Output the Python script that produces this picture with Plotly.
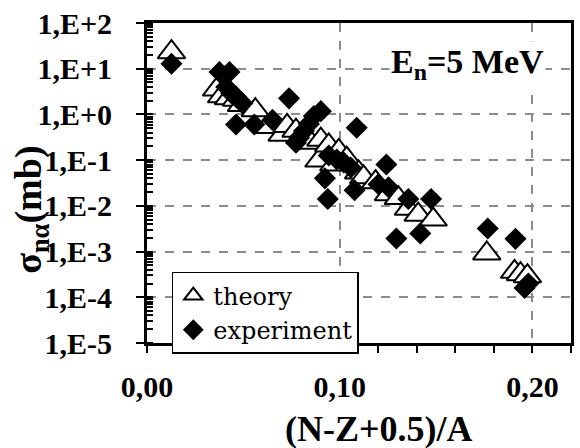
import plotly.graph_objects as go

# (N-Z+0.5)/A and cross-section (mb) for the theoretical systematics
theory_x = [0.0127, 0.0361, 0.0387, 0.0423, 0.0464, 0.0490, 0.0562, 0.0624,
            0.0701, 0.0727, 0.0773, 0.0850, 0.0892, 0.0902, 0.0943, 0.0969,
            0.0995, 0.1036, 0.1098, 0.1124, 0.1186, 0.1253, 0.1304, 0.1356,
            0.1407, 0.1485, 0.1763, 0.1907, 0.1938, 0.1974]
theory_y = [23, 3.5, 2.5, 2.25, 2.1, 1.6, 1.24, 0.53,
            0.36, 0.56, 0.44, 0.24, 0.098, 0.28, 0.21, 0.08,
            0.16, 0.108, 0.054, 0.042, 0.033, 0.018, 0.0148, 0.0086,
            0.0064, 0.0050, 0.00091, 0.00036, 0.00032, 0.00029]

# measured (n,alpha) cross sections at En = 5 MeV
exp_x = [0.0127, 0.0376, 0.0428, 0.0411, 0.0437, 0.0462, 0.0495, 0.0462,
         0.0557, 0.0651, 0.0737, 0.0773, 0.0789, 0.0814, 0.0840, 0.0866,
         0.0902, 0.0943, 0.0985, 0.1021, 0.1057, 0.0923, 0.0938, 0.1077,
         0.1088, 0.1242, 0.1201, 0.1253, 0.1294, 0.1356, 0.1418, 0.1474,
         0.1768, 0.1912, 0.1959, 0.1979]
exp_y = [12.8, 8.5, 8.5, 4.0, 2.9, 2.45, 1.75, 0.60,
         0.60, 0.76, 2.25, 0.24, 0.31, 0.435, 0.62, 0.92,
         1.18, 0.126, 0.103, 0.089, 0.069, 0.040, 0.0141, 0.022,
         0.51, 0.080, 0.0297, 0.0256, 0.00193, 0.0141, 0.0025, 0.0141,
         0.0032, 0.0019, 0.00016, 0.00020]

x_ticks = [0.0, 0.1, 0.2]
x_ticktext = ["0,00", "0,10", "0,20"]
y_ticks = [1e-5, 1e-4, 1e-3, 1e-2, 1e-1, 1e0, 1e1, 1e2]
y_ticktext = ["1,E-5", "1,E-4", "1,E-3", "1,E-2", "1,E-1", "1,E+0", "1,E+1", "1,E+2"]

SERIF = "Liberation Serif"
LEGEND_SERIF = "DejaVu Serif"

fig = go.Figure()
fig.add_trace(go.Scatter(
    x=theory_x, y=theory_y, mode="markers", name="theory",
    marker=dict(symbol="triangle-up", size=24, color="white",
                line=dict(color="black", width=2)),
))
fig.add_trace(go.Scatter(
    x=exp_x, y=exp_y, mode="markers", name="experiment",
    marker=dict(symbol="diamond", size=17, color="black",
                line=dict(width=0)),
))

fig.update_layout(
    width=580, height=448,
    margin=dict(l=147, r=6, t=19, b=105),
    paper_bgcolor="white", plot_bgcolor="white",
    font=dict(family=SERIF, color="black", size=28),
    showlegend=True,
    legend=dict(
        x=0.0585, y=0.222, xanchor="left", yanchor="top",
        bgcolor="white", bordercolor="black", borderwidth=1.5,
        font=dict(family=LEGEND_SERIF, size=24, color="black"),
        itemsizing="trace", tracegroupgap=0,
    ),
)

fig.update_xaxes(
    range=[0, 0.22], tickmode="array", tickvals=x_ticks, ticktext=x_ticktext,
    tickfont=dict(family=SERIF, size=30, weight="bold"),
    ticks="outside", ticklen=7, tickwidth=2, tickcolor="black",
    ticklabelstandoff=8,
    minor=dict(dtick=0.02, tick0=0, ticks="outside", ticklen=7, tickwidth=2,
               tickcolor="black", showgrid=False),
    showline=True, linewidth=3, linecolor="black", mirror=True,
    showgrid=True, gridcolor="#8c8c8c", gridwidth=1.5, griddash="dash",
    zeroline=False,
)
fig.update_yaxes(
    type="log", range=[-5, 2], tickmode="array", tickvals=y_ticks,
    ticktext=y_ticktext,
    tickfont=dict(family=SERIF, size=30, weight="bold"),
    ticks="outside", ticklen=8, tickwidth=2, tickcolor="black",
    ticklabelstandoff=18,
    minor=dict(dtick="D1", ticks="inside", ticklen=6, tickwidth=1.5,
               tickcolor="black", showgrid=False),
    showline=True, linewidth=3, linecolor="black", mirror=True,
    showgrid=True, gridcolor="#8c8c8c", gridwidth=1.5, griddash="dash",
    zeroline=False,
)

# axis titles and energy label
fig.add_annotation(
    text="(N-Z+0.5)/A", xref="paper", yref="paper", x=0.546, y=-0.269,
    xanchor="center", yanchor="middle", showarrow=False,
    font=dict(family=SERIF, size=36, weight="bold", color="black"),
)
fig.add_annotation(
    text="σ<sub>nα</sub>(mb)", xref="paper", yref="paper", x=-0.272, y=0.415,
    xanchor="center", yanchor="middle", textangle=-90, showarrow=False,
    font=dict(family=SERIF, size=38, weight="bold", color="black"),
)
fig.add_annotation(
    text="E<sub>n</sub>=5 MeV", xref="paper", yref="paper", x=0.757, y=0.873,
    xanchor="center", yanchor="middle", showarrow=False, bgcolor="white",
    font=dict(family=SERIF, size=34, weight="bold", color="black"),
)

fig.write_html("out.html")
